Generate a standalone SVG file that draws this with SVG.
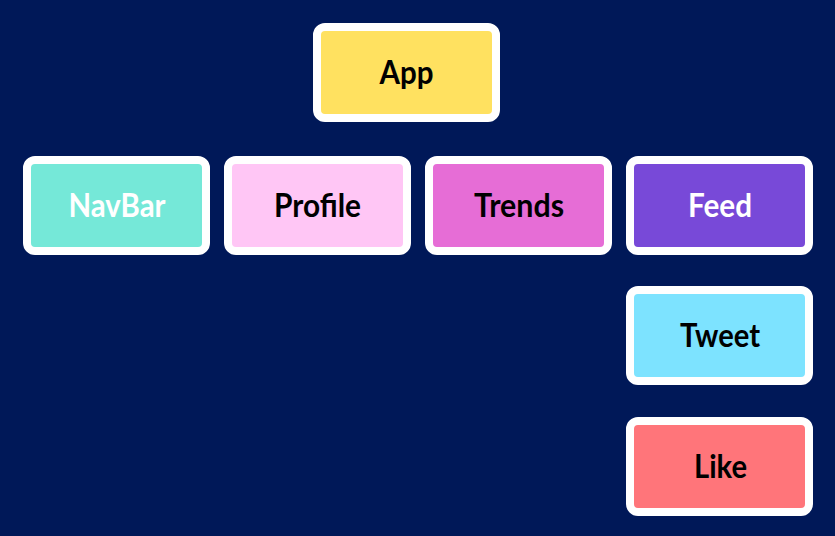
<svg xmlns="http://www.w3.org/2000/svg" width="835" height="536" viewBox="0 0 835 536">
  <style>
    .box { stroke: #ffffff; stroke-width: 8; }
    .label { font-family: Lato, "Open Sans", "Liberation Sans", sans-serif; font-weight: 700; font-size: 32px; text-anchor: middle; }
    .dark { fill: #000000; }
    .light { fill: #ffffff; }
  </style>
  <rect width="835" height="536" fill="#001858"/>
  <g id="connectors"/>
  <g id="app">
    <rect class="box" x="317" y="27" width="179" height="91" rx="8" fill="#ffe160"/>
    <text class="label dark" x="406.5" y="84" textLength="54" lengthAdjust="spacingAndGlyphs">App</text>
  </g>
  <g id="navbar">
    <rect class="box" x="27" y="160" width="179" height="91" rx="8" fill="#75e8d8"/>
    <text class="label light" x="117" y="217" textLength="97" lengthAdjust="spacingAndGlyphs">NavBar</text>
  </g>
  <g id="profile">
    <rect class="box" x="228" y="160" width="179" height="91" rx="8" fill="#ffc6f5"/>
    <text class="label dark" x="317.5" y="217" textLength="87" lengthAdjust="spacingAndGlyphs">Profile</text>
  </g>
  <g id="trends">
    <rect class="box" x="429" y="160" width="179" height="91" rx="8" fill="#e66dd6"/>
    <text class="label dark" x="519" y="217" textLength="90" lengthAdjust="spacingAndGlyphs">Trends</text>
  </g>
  <g id="feed">
    <rect class="box" x="630" y="160" width="179" height="91" rx="8" fill="#7849d8"/>
    <text class="label light" x="720" y="217" textLength="64" lengthAdjust="spacingAndGlyphs">Feed</text>
  </g>
  <g id="tweet">
    <rect class="box" x="630" y="290" width="179" height="91" rx="8" fill="#7de3ff"/>
    <text class="label dark" x="720" y="347" textLength="80" lengthAdjust="spacingAndGlyphs">Tweet</text>
  </g>
  <g id="like">
    <rect class="box" x="630" y="421" width="179" height="91" rx="8" fill="#ff757a"/>
    <text class="label dark" x="720.5" y="478" textLength="53" lengthAdjust="spacingAndGlyphs">Like</text>
  </g>
</svg>
